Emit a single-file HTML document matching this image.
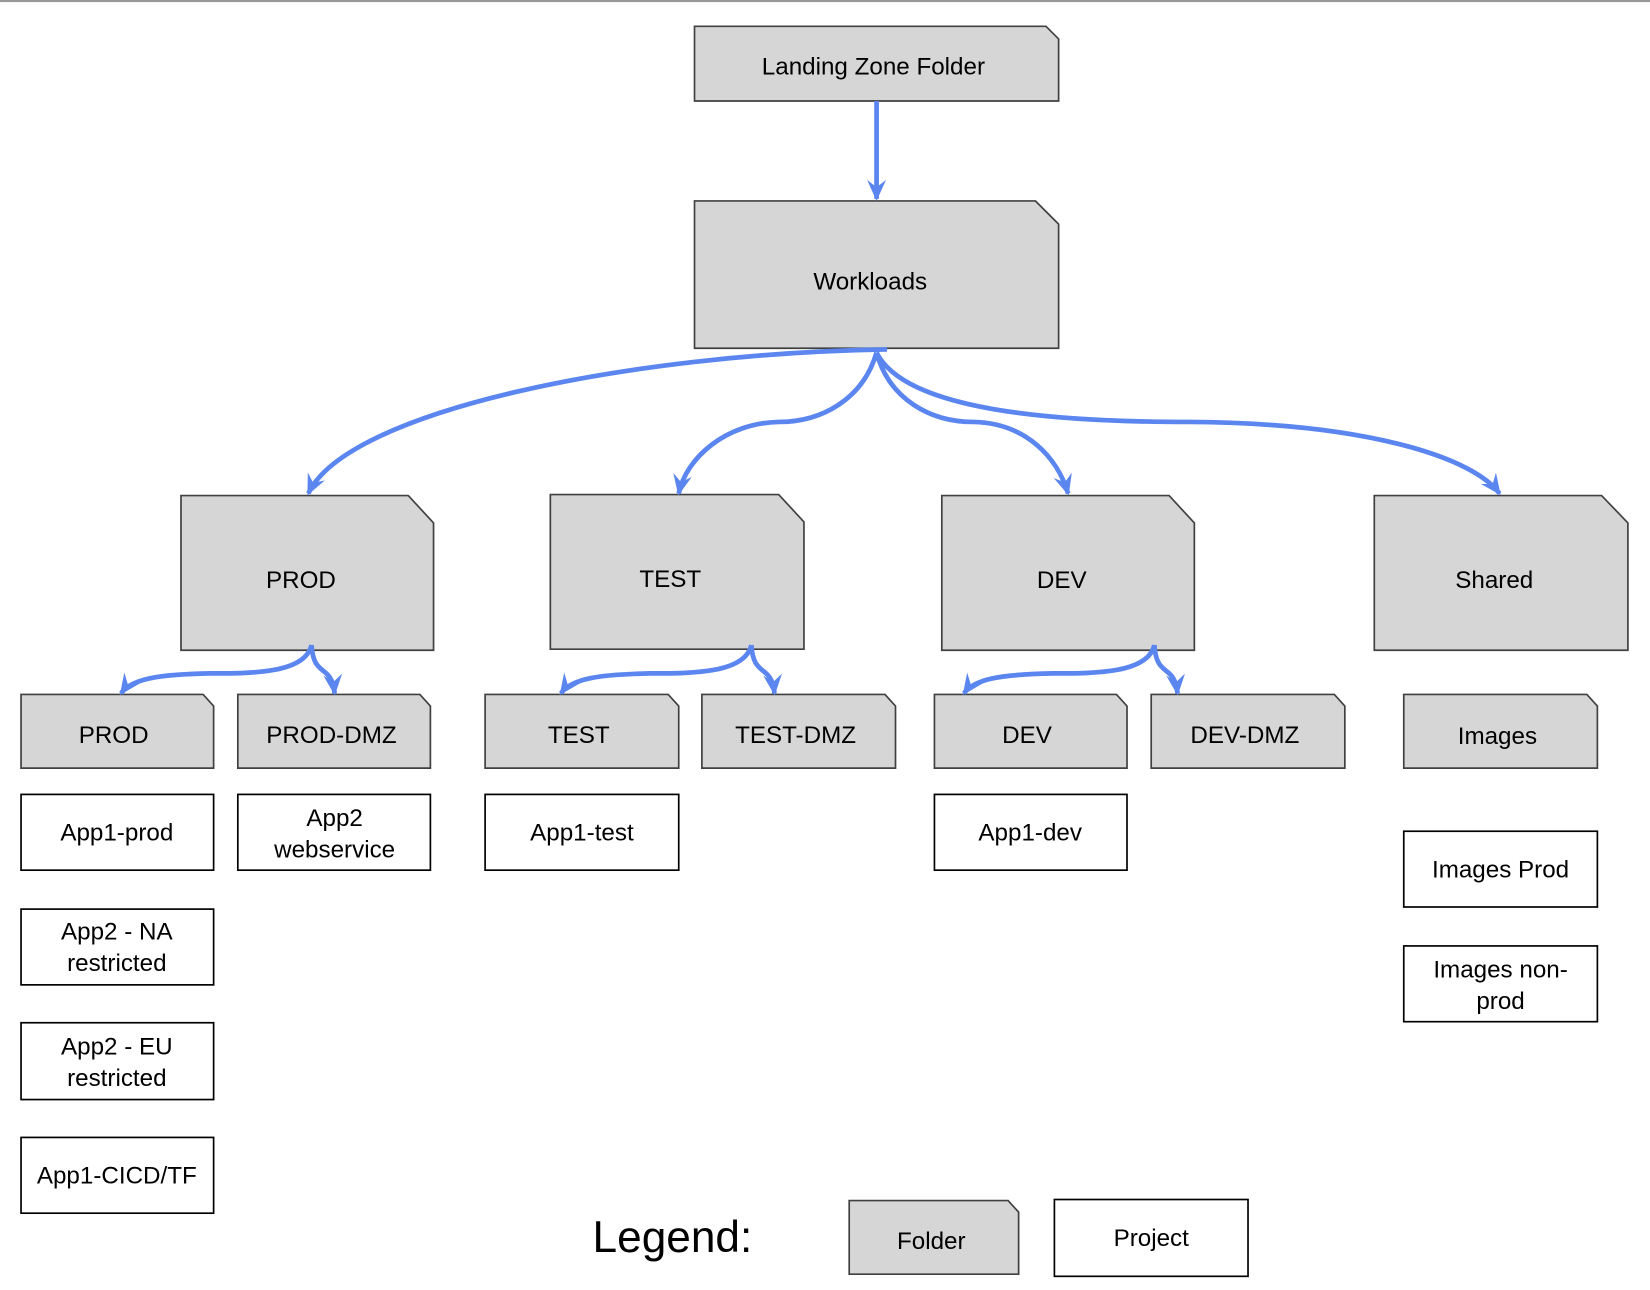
<!DOCTYPE html>
<html><head><meta charset="utf-8"><style>html,body{margin:0;padding:0;background:#fff}svg{display:block}</style></head><body>
<svg width="1650" height="1290" viewBox="0 0 1568 1226" preserveAspectRatio="none" xmlns="http://www.w3.org/2000/svg" font-family="Liberation Sans, sans-serif" font-size="23" text-anchor="middle">
<defs><marker id="a" markerWidth="24" markerHeight="24" refX="20" refY="12" orient="auto" markerUnits="userSpaceOnUse" viewBox="0 0 24 24"><path d="M2,3 L22,12 L2,21 L9,12 Z" fill="#5b86ef"/></marker></defs>
<rect x="0" y="0" width="1568" height="2" fill="#999"/>
<g fill="#d6d6d6" stroke="#404040" stroke-width="1.6">
<path d="M660,25 H994 L1006,37 V96 H660 Z"/>
<path d="M660,191 H984 L1006,213 V331 H660 Z"/>
<path d="M172,471 H388 L412,497 V618 H172 Z"/>
<path d="M523,470 H740 L764,496 V617 H523 Z"/>
<path d="M895,471 H1111 L1135,497 V618 H895 Z"/>
<path d="M1306,471 H1522 L1547,497 V618 H1306 Z"/>
<path d="M20,660 H193 L203,671 V730 H20 Z"/>
<path d="M226,660 H399 L409,671 V730 H226 Z"/>
<path d="M461,660 H635 L645,671 V730 H461 Z"/>
<path d="M667,660 H841 L851,671 V730 H667 Z"/>
<path d="M888,660 H1061 L1071,671 V730 H888 Z"/>
<path d="M1094,660 H1268 L1278,671 V730 H1094 Z"/>
<path d="M1334,660 H1508 L1518,671 V730 H1334 Z"/>
<path d="M807,1141 H958 L968,1152 V1211 H807 Z"/>
</g>
<g fill="#fff" stroke="#000" stroke-width="1.6">
<rect x="20" y="755" width="183" height="72"/>
<rect x="226" y="755" width="183" height="72"/>
<rect x="461" y="755" width="184" height="72"/>
<rect x="888" y="755" width="183" height="72"/>
<rect x="20" y="864" width="183" height="72"/>
<rect x="20" y="972" width="183" height="73"/>
<rect x="20" y="1081" width="183" height="72"/>
<rect x="1334" y="790" width="184" height="72"/>
<rect x="1334" y="899" width="184" height="72"/>
<rect x="1002" y="1140" width="184" height="73"/>
</g>
<g fill="none" stroke="#5b86ef" stroke-width="4.5" marker-end="url(#a)">
<path d="M833,96 V189"/>
<path d="M843,332 C600,336 330,390 293,469"/>
<path d="M833,335 C820,380 780,401 740,401 C690,402 652,435 645,469"/>
<path d="M833,335 C845,380 885,401 925,401 C975,402 1005,435 1015,469"/>
<path d="M833,335 C860,390 1000,401 1130,401 C1300,402 1400,435 1425,469"/>
<path d="M296,613 C290,640 240,640 200,640 C150,641 125,645 115,659"/>
<path d="M296,613 C298,645 315,630 318,659"/>
<path d="M714,613 C708,640 658,640 618,640 C568,641 543,645 533,659"/>
<path d="M714,613 C716,645 733,630 736,659"/>
<path d="M1097,613 C1091,640 1041,640 1001,640 C951,641 926,645 916,659"/>
<path d="M1097,613 C1099,645 1116,630 1119,659"/>
</g>
<g fill="#000">
<text x="830" y="71">Landing Zone Folder</text>
<text x="827" y="275">Workloads</text>
<text x="286" y="559">PROD</text>
<text x="637" y="558">TEST</text>
<text x="1009" y="559">DEV</text>
<text x="1420" y="559">Shared</text>
<text x="108" y="706">PROD</text>
<text x="315" y="706">PROD-DMZ</text>
<text x="550" y="706">TEST</text>
<text x="756" y="706">TEST-DMZ</text>
<text x="976" y="706">DEV</text>
<text x="1183" y="706">DEV-DMZ</text>
<text x="1423" y="707">Images</text>
<text x="111" y="799">App1-prod</text>
<text x="318" y="785">App2</text>
<text x="318" y="815">webservice</text>
<text x="553" y="799">App1-test</text>
<text x="979" y="799">App1-dev</text>
<text x="111" y="893">App2 - NA</text>
<text x="111" y="923">restricted</text>
<text x="111" y="1002">App2 - EU</text>
<text x="111" y="1032">restricted</text>
<text x="111" y="1125">App1-CICD/TF</text>
<text x="1426" y="834">Images Prod</text>
<text x="1426" y="929">Images non-</text>
<text x="1426" y="959">prod</text>
<text x="885" y="1187">Folder</text>
<text x="1094" y="1184">Project</text>
<text x="639" y="1190" font-size="42">Legend:</text>
</g>
</svg>
</body></html>
